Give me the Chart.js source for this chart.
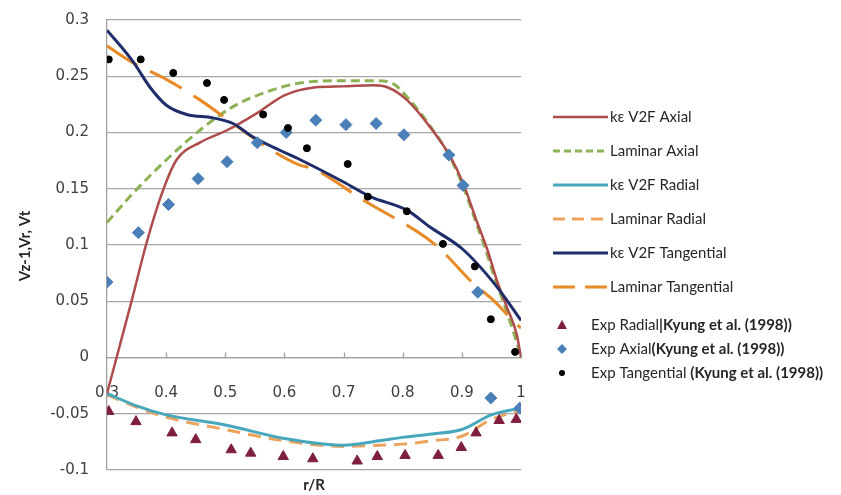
<!DOCTYPE html>
<html>
<head>
<meta charset="utf-8">
<script src="https://cdn.jsdelivr.net/npm/chart.js@4.4.1/dist/chart.umd.min.js"></script>
<style>
  body { margin: 0; background: #fff; }
</style>
</head>
<body>
<canvas id="flowChart" width="841" height="495"></canvas>
<script>
// r/R positions and values
var keAxialX = [0.3, 0.342, 0.368, 0.395, 0.418, 0.457, 0.503, 0.553, 0.6, 0.65, 0.7, 0.75, 0.775, 0.807, 0.846, 0.88, 0.902, 0.926, 0.943, 0.959, 0.976, 0.993, 1.0];
var keAxialY = [-0.032, 0.051, 0.104, 0.149, 0.176, 0.191, 0.202, 0.217, 0.233, 0.24, 0.241, 0.242, 0.24, 0.229, 0.205, 0.179, 0.155, 0.12, 0.096, 0.069, 0.045, 0.02, 0.0];

var lamAxialX = [0.3, 0.344, 0.401, 0.457, 0.513, 0.57, 0.626, 0.7, 0.76, 0.785, 0.81, 0.846, 0.878, 0.9, 0.924, 0.94, 0.956, 0.973, 0.99, 1.0];
var lamAxialY = [0.12, 0.146, 0.176, 0.202, 0.223, 0.236, 0.244, 0.246, 0.246, 0.243, 0.23, 0.206, 0.18, 0.155, 0.12, 0.096, 0.07, 0.045, 0.018, 0.0];

var keRadialX = [0.3, 0.35, 0.4, 0.5, 0.6, 0.7, 0.76, 0.8, 0.85, 0.9, 0.95, 1.0];
var keRadialY = [-0.032, -0.043, -0.051, -0.06, -0.072, -0.078, -0.074, -0.071, -0.068, -0.064, -0.051, -0.045];

var lamRadialX = [0.3, 0.35, 0.4, 0.5, 0.6, 0.7, 0.76, 0.8, 0.85, 0.9, 0.95, 1.0];
var lamRadialY = [-0.033, -0.044, -0.053, -0.064, -0.074, -0.079, -0.078, -0.077, -0.074, -0.07, -0.055, -0.047];

var keTangX = [0.3, 0.344, 0.373, 0.401, 0.435, 0.479, 0.513, 0.547, 0.593, 0.626, 0.7, 0.745, 0.807, 0.846, 0.902, 0.959, 1.0];
var keTangY = [0.291, 0.263, 0.24, 0.224, 0.216, 0.213, 0.208, 0.196, 0.184, 0.176, 0.156, 0.143, 0.131, 0.116, 0.096, 0.063, 0.033];

var lamTangX = [0.3, 0.344, 0.401, 0.457, 0.513, 0.57, 0.626, 0.648, 0.733, 0.841, 0.868, 0.919, 0.953, 0.986, 1.0];
var lamTangY = [0.277, 0.262, 0.247, 0.229, 0.208, 0.187, 0.171, 0.168, 0.14, 0.106, 0.094, 0.066, 0.051, 0.033, 0.026];

var expRadialX = [0.303, 0.349, 0.41, 0.45, 0.51, 0.543, 0.598, 0.648, 0.723, 0.757, 0.804, 0.86, 0.899, 0.924, 0.963, 0.992];
var expRadialY = [-0.048, -0.057, -0.067, -0.073, -0.082, -0.085, -0.088, -0.09, -0.092, -0.088, -0.087, -0.087, -0.08, -0.067, -0.056, -0.055];

var expAxialX = [0.3, 0.353, 0.404, 0.454, 0.503, 0.554, 0.603, 0.653, 0.704, 0.755, 0.802, 0.878, 0.902, 0.927, 0.949, 0.998];
var expAxialY = [0.067, 0.111, 0.136, 0.159, 0.174, 0.191, 0.2, 0.211, 0.207, 0.208, 0.198, 0.18, 0.153, 0.058, -0.036, -0.045];

var expTangX = [0.303, 0.357, 0.412, 0.469, 0.498, 0.564, 0.606, 0.638, 0.707, 0.741, 0.807, 0.868, 0.922, 0.949, 0.99];
var expTangY = [0.265, 0.265, 0.253, 0.244, 0.229, 0.216, 0.204, 0.186, 0.172, 0.143, 0.13, 0.101, 0.081, 0.034, 0.005];

var lineLegend = [
  { label: 'kε V2F Axial', color: '#AD4C4A', dash: [], width: 2.5 },
  { label: 'Laminar Axial', color: '#8DB255', dash: [7, 4], width: 3 },
  { label: 'kε V2F Radial', color: '#46A7BD', dash: [], width: 3 },
  { label: 'Laminar Radial', color: '#EBA35E', dash: [12, 7], width: 3 },
  { label: 'kε V2F Tangential', color: '#1F2D6B', dash: [], width: 3 },
  { label: 'Laminar Tangential', color: '#E88A27', dash: [22, 10], width: 3 }
];

function pts(xs, ys) {
  return xs.map(function (x, i) { return { x: x, y: ys[i] }; });
}

function lineSet(i, xs, ys, dash) {
  var l = lineLegend[i];
  return {
    label: l.label,
    data: pts(xs, ys),
    showLine: true,
    borderColor: l.color,
    borderWidth: l.width,
    borderDash: dash || l.dash,
    pointRadius: 0,
    cubicInterpolationMode: 'monotone',
    fill: false
  };
}

var datasets = [
  { label: 'Exp Tangential', data: pts(expTangX, expTangY), pointStyle: 'circle', pointRadius: 3.5,
    backgroundColor: '#000', borderColor: '#000', showLine: false },
  { label: 'Exp Axial', data: pts(expAxialX, expAxialY), pointStyle: 'rectRot', pointRadius: 6,
    backgroundColor: '#4A7FB8', borderColor: '#4A7FB8', showLine: false },
  { label: 'Exp Radial', data: pts(expRadialX, expRadialY), pointStyle: 'triangle', pointRadius: 6,
    backgroundColor: '#7F1F3E', borderColor: '#7F1F3E', showLine: false },
  lineSet(4, keTangX, keTangY),
  lineSet(5, lamTangX, lamTangY, [36, 14]),
  lineSet(0, keAxialX, keAxialY),
  lineSet(1, lamAxialX, lamAxialY, [9, 5]),
  lineSet(2, keRadialX, keRadialY),
  lineSet(3, lamRadialX, lamRadialY, [13, 8])
];

var expLegend = [
  { style: 'triangle', color: '#7F1F3E', r: 5, a: 'Exp Radial', b: '|Kyung et al. (1998))', y: 325 },
  { style: 'diamond', color: '#4A7FB8', r: 5, a: 'Exp Axial', b: '(Kyung et al. (1998))', y: 349 },
  { style: 'circle', color: '#000', r: 3, a: 'Exp Tangential ', b: '(Kyung et al. (1998))', y: 373 }
];

var extras = {
  id: 'extras',
  afterDraw: function (chart) {
    var ctx = chart.ctx;
    var xs = chart.scales.x, ys = chart.scales.y;
    var a = chart.chartArea;
    ctx.save();

    // small tick marks on the x axis line
    var y0 = ys.getPixelForValue(0);
    ctx.strokeStyle = '#a0a0a0';
    ctx.lineWidth = 1.3;
    [0.4, 0.5, 0.6, 0.7, 0.8, 0.9, 1.0].forEach(function (v) {
      var px = Math.round(xs.getPixelForValue(v)) + 0.5;
      ctx.beginPath();
      ctx.moveTo(px, y0 - 5);
      ctx.lineTo(px, y0);
      ctx.stroke();
    });

    // axis titles
    ctx.fillStyle = '#262626';
    ctx.font = 'bold 15px Lato';
    ctx.textAlign = 'center';
    ctx.textBaseline = 'middle';
    ctx.fillText('r/R', (a.left + a.right) / 2, 485);
    ctx.save();
    ctx.translate(25, 246);
    ctx.rotate(-Math.PI / 2);
    ctx.fillText('Vz-1,Vr, Vt', 0, 0);
    ctx.restore();

    // line legend
    ctx.textAlign = 'left';
    ctx.font = '15px Lato';
    lineLegend.forEach(function (l, i) {
      var ly = 117 + i * 34;
      ctx.strokeStyle = l.color;
      ctx.lineWidth = l.width;
      ctx.setLineDash(l.dash);
      ctx.beginPath();
      ctx.moveTo(553, ly);
      ctx.lineTo(608, ly);
      ctx.stroke();
      ctx.setLineDash([]);
      ctx.fillStyle = '#262626';
      ctx.fillText(l.label, 610, ly);
    });

    // experimental legend
    expLegend.forEach(function (e) {
      ctx.fillStyle = e.color;
      ctx.beginPath();
      if (e.style === 'triangle') {
        ctx.moveTo(562, e.y - 5);
        ctx.lineTo(567, e.y + 4);
        ctx.lineTo(557, e.y + 4);
      } else if (e.style === 'diamond') {
        ctx.moveTo(562, e.y - 5);
        ctx.lineTo(567, e.y);
        ctx.lineTo(562, e.y + 5);
        ctx.lineTo(557, e.y);
      } else {
        ctx.arc(562, e.y, e.r, 0, Math.PI * 2);
      }
      ctx.closePath();
      ctx.fill();
      ctx.fillStyle = '#262626';
      ctx.font = '15px Lato';
      ctx.fillText(e.a, 591, e.y);
      var w = ctx.measureText(e.a).width;
      ctx.font = 'bold 15px Lato';
      ctx.fillText(e.b, 591 + w, e.y);
    });

    ctx.restore();
  }
};

// keep tick labels from pushing the plot area in
function noOverflow(scale) {
  scale.paddingTop = 0;
  scale.paddingBottom = 0;
  scale.paddingLeft = 0;
  scale.paddingRight = 0;
}

var chartInstance = new Chart(document.getElementById('flowChart').getContext('2d'), {
  type: 'scatter',
  data: { datasets: datasets },
  plugins: [extras],
  options: {
    responsive: false,
    animation: false,
    layout: { padding: { left: 0, right: 320, top: 20, bottom: 25 } },
    plugins: {
      legend: { display: false },
      tooltip: { enabled: false }
    },
    scales: {
      x: {
        type: 'linear',
        position: { y: 0 },
        min: 0.3,
        max: 1.0,
        afterFit: noOverflow,
        grid: { display: false, drawTicks: false },
        border: { display: true, color: '#a0a0a0', width: 1.3 },
        ticks: {
          stepSize: 0.1,
          padding: 27,
          color: '#404040',
          font: { family: 'DejaVu Sans', size: 15 },
          callback: function (v) { return String(Number(v.toFixed(1))); }
        }
      },
      y: {
        min: -0.1,
        max: 0.3,
        afterFit: function (scale) { noOverflow(scale); scale.width = 107; },
        grid: { color: '#a6a6a6', lineWidth: 1.3, drawTicks: false },
        border: { display: true, color: '#a0a0a0', width: 1.3 },
        ticks: {
          stepSize: 0.05,
          padding: 18,
          color: '#404040',
          font: { family: 'DejaVu Sans', size: 15 },
          callback: function (v) { return String(Number(v.toFixed(2))); }
        }
      }
    }
  }
});
</script>
</body>
</html>
